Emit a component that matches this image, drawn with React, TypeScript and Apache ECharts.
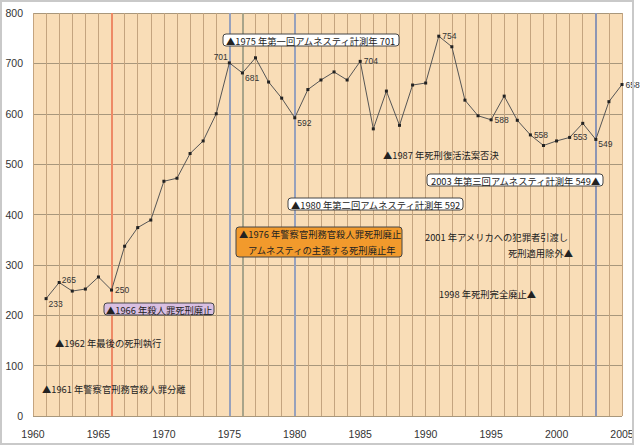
import React, { useEffect, useRef } from "react";
import * as echarts from "echarts";

const years = [
  1961, 1962, 1963, 1964, 1965, 1966, 1967, 1968, 1969, 1970,
  1971, 1972, 1973, 1974, 1975, 1976, 1977, 1978, 1979, 1980,
  1981, 1982, 1983, 1984, 1985, 1986, 1987, 1988, 1989, 1990,
  1991, 1992, 1993, 1994, 1995, 1996, 1997, 1998, 1999, 2000,
  2001, 2002, 2003, 2004, 2005,
];
const values = [
  233, 265, 248, 252, 276, 250, 337, 374, 389, 466,
  472, 521, 546, 600, 701, 681, 711, 663, 631, 592,
  648, 667, 683, 667, 704, 570, 645, 577, 657, 661,
  754, 733, 627, 596, 588, 635, 587, 558, 537, 546,
  553, 581, 549, 624, 658,
];
// years whose value is printed next to the point, and where
const labelledYears: Record<number, string> = {
  1961: "rb", 1962: "rt", 1966: "r", 1975: "lt", 1976: "rb", 1980: "rb",
  1985: "r", 1991: "r", 1995: "r", 1998: "r", 2001: "r", 2003: "rb", 2005: "r",
};
const markYears = [1966, 1975, 1976, 1980, 2003];
const markColors = ["#EE8A66", "#97A1BC", "#A8A48A", "#97A1BC", "#8E96B4"];

const FONT_JP = '"Noto Sans CJK JP", sans-serif';

export default function App() {
  const ref = useRef<HTMLDivElement>(null);
  useEffect(() => {
    document.body.style.margin = "0";
    const chart = echarts.init(ref.current!, null, { renderer: "svg" });
    const data = years.map((y, i) => {
      const pos = labelledYears[y];
      const item: any = { value: [y, values[i]] };
      if (pos) {
        let position: any = "right";
        let offset = [0, 0];
        if (pos === "rb") offset = [-1, 5];
        if (pos === "rt") offset = [-1, -3];
        if (pos === "lt") { position = "left"; offset = [2, -6]; }
        item.label = { show: true, position, offset, distance: 2 };
      }
      return item;
    });
    const txt = (text: string, x: number, y: number, align = "left") => ({
      type: "text",
      x,
      y,
      z: 110,
      style: {
        text,
        font: `9.3px ${FONT_JP}`,
        fill: "#222",
        align,
        verticalAlign: "middle",
      },
    });
    const box = (x: number, y: number, w: number, h: number, fill: string) => ({
      type: "rect",
      z: 105,
      shape: { x, y, width: w, height: h, r: 3 },
      style: { fill, stroke: "#444", lineWidth: 1 },
    });
    chart.setOption({
      animation: false,
      backgroundColor: "#FFFFFF",
      grid: {
        left: 33,
        right: 18,
        top: 13,
        bottom: 30,
        show: true,
        backgroundColor: "#F9DDB7",
        borderWidth: 0,
      },
      xAxis: {
        type: "value",
        min: 1960,
        max: 2005,
        interval: 5,
        axisLine: { show: false },
        axisTick: { show: false },
        axisLabel: {
          color: "#333",
          fontSize: 10.5,
          fontFamily: "Liberation Sans",
          margin: 12,
          formatter: (v: number) => String(v),
        },
        splitLine: { show: true, lineStyle: { color: "#C4A47F", width: 1 } },
        minorTick: { show: false, splitNumber: 5 },
        minorSplitLine: { show: true, lineStyle: { color: "#C4A47F", width: 1 } },
      },
      yAxis: {
        type: "value",
        min: 0,
        max: 800,
        interval: 100,
        axisLine: { show: false },
        axisTick: { show: false },
        axisLabel: {
          color: "#333",
          fontSize: 10.5,
          fontFamily: "Liberation Sans",
          margin: 10,
        },
        splitLine: { show: true, lineStyle: { color: "#A8977C", width: 1 } },
      },
      series: [
        {
          type: "line",
          data,
          symbol: "rect",
          symbolSize: 3,
          itemStyle: { color: "#222" },
          lineStyle: { color: "#555", width: 1 },
          label: {
            show: false,
            formatter: (p: any) => String(p.value[1]),
            fontSize: 8.5,
            fontFamily: "Liberation Sans",
            color: "#333",
          },
          markLine: {
            silent: true,
            symbol: "none",
            label: { show: false },
            data: markYears.map((y, i) => ({
              xAxis: y,
              lineStyle: { color: markColors[i], width: 2, type: "solid" },
            })),
          },
          z: 5,
        },
      ],
      graphic: [
        {
          type: "rect",
          z: 120,
          shape: { x: 1, y: 1, width: 632, height: 443 },
          style: { fill: "none", stroke: "#C9C9C9", lineWidth: 2 },
        },
        box(223, 34, 176, 12, "#FFFFFF"),
        txt("▲1975 年第一回アムネスティ計測年 701", 226, 40.5),
        txt("▲1987 年死刑復活法案否決", 383, 155),
        box(427, 174, 176, 12, "#FFFFFF"),
        txt("2003 年第三回アムネスティ計測年 549▲", 431, 180.5),
        box(288, 198, 175, 12, "#FFFFFF"),
        txt("▲1980 年第二回アムネスティ計測年 592", 291, 204.5),
        box(236, 227, 166, 30, "#F29A2C"),
        txt("▲1976 年警察官刑務官殺人罪死刑廃止", 239, 234),
        txt("アムネスティの主張する死刑廃止年", 248, 250),
        txt("2001 年アメリカへの犯罪者引渡し", 425, 237),
        txt("死刑適用除外▲", 573, 253, "right"),
        txt("1998 年死刑完全廃止▲", 439, 294),
        box(104, 303, 110, 12, "#D9BFE2"),
        txt("▲1966 年殺人罪死刑廃止", 106, 309.5),
        txt("▲1962 年最後の死刑執行", 55, 343),
        txt("▲1961 年警察官刑務官殺人罪分離", 42, 389),
      ],
    });
    return () => chart.dispose();
  }, []);
  return <div ref={ref} style={{ width: 640, height: 446 }} />;
}
